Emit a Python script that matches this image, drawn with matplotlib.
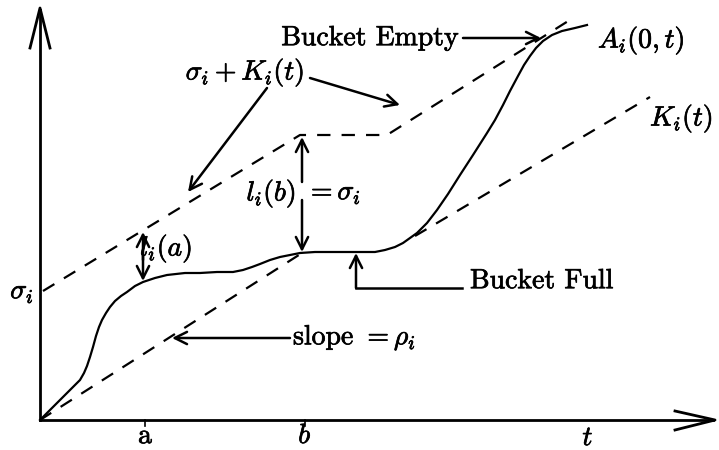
import matplotlib
matplotlib.use("Agg")
import matplotlib.pyplot as plt
import matplotlib.patheffects as pe

plt.rcParams['font.family'] = 'serif'
plt.rcParams['font.serif'] = ['cmr10']
plt.rcParams['mathtext.fontset'] = 'cm'
plt.rcParams['axes.unicode_minus'] = False

# arrival curve A_i(0,t) (schematic units)
curve_x = [0, 22, 40, 44, 47, 50, 53, 56, 59, 62, 66, 70, 75, 81, 87, 95, 103, 115, 127,
           145, 160, 177, 193, 203, 212, 220, 230, 240, 250, 260, 275, 290, 305, 320,
           335, 345, 355, 363, 370, 377, 387, 397, 408, 420, 433, 447, 455, 463, 470,
           478, 484, 490, 496, 503, 512, 522, 535, 547]
curve_y = [0, 22, 40, 47, 54, 63, 73, 84, 93, 100, 107, 113, 119, 124, 128, 134, 138, 142,
           145, 147, 147, 148, 148, 150, 153, 156, 160, 163, 165, 167, 168, 168, 168, 168,
           168, 170, 173, 177, 182, 187, 197, 210, 226, 245, 265, 287, 300, 315, 329,
           344, 355, 364, 372, 379, 385, 389, 392, 395]

# dashed bounds
slope_x = [0, 262]
slope_y = [0, 167]
upper_x = [3, 260, 347, 533]
upper_y = [129, 285, 285, 402]
k_x = [375, 610]
k_y = [184, 323]

ticks_x = [105, 265]
ticks_lab = ['a', '$b$']
sigma_y = 125

fig = plt.figure(figsize=(7.19, 4.5), dpi=100)
ax = fig.add_axes([0, 0, 1, 1])
ax.set_xlim(-40, 679)
ax.set_ylim(-30, 420)
ax.axis('off')

# axes with open arrow heads
ax.plot([0, 673], [0, 0], 'k-', lw=2.0)
ax.plot([635, 675, 635], [9, 0, -10], 'k-', lw=2.0)
ax.plot([0, 0], [0, 410], 'k-', lw=2.0)
ax.plot([-10, 0, 10], [372, 412, 372], 'k-', lw=2.0)

ax.plot(curve_x, curve_y, 'k-', lw=1.6, solid_joinstyle='round')
dash = dict(color='k', lw=1.6, dashes=(6, 5))
ax.plot(slope_x, slope_y, **dash)
ax.plot(upper_x, upper_y, **dash)
ax.plot(k_x, k_y, **dash)

fs = 20
bold = [pe.withStroke(linewidth=0.5, foreground='k')]


def label(x, y, s, ha='left'):
    ax.text(x, y, s, fontsize=fs, ha=ha, va='center', path_effects=bold)


for x, lab in zip(ticks_x, ticks_lab):
    ax.plot([x, x], [0, -6], 'k-', lw=1.2)
    label(x, -16, lab, ha='center')
label(548, -18, '$t$', ha='center')
label(-18, sigma_y + 3, r'$\sigma_i$', ha='center')

arr = dict(arrowstyle='->', lw=1.8, color='k', mutation_scale=22, shrinkA=0, shrinkB=0)

label(330, 382, 'Bucket Empty', ha='center')
ax.annotate('', xy=(501, 382), xytext=(423, 382), arrowprops=arr)
label(558, 380, r'$A_i(0,t)$')

label(205, 348, r'$\sigma_i + K_i(t)$', ha='center')
ax.annotate('', xy=(148, 228), xytext=(227, 332), arrowprops=arr)
ax.annotate('', xy=(360, 315), xytext=(270, 342), arrowprops=arr)

label(610, 302, r'$K_i(t)$')

label(256, 227, r'$l_i(b)$', ha='right')
label(266, 227, r'$=\sigma_i$')
ax.annotate('', xy=(262, 283), xytext=(262, 238), arrowprops=arr)
ax.annotate('', xy=(262, 168), xytext=(262, 220), arrowprops=arr)

label(100, 172, r'$l_i(a)$')
ax.annotate('', xy=(103, 188), xytext=(103, 160), arrowprops=arr)
ax.annotate('', xy=(103, 139), xytext=(103, 165), arrowprops=arr)

label(430, 139, 'Bucket Full')
ax.plot([422, 316], [132, 132], 'k-', lw=1.8)
ax.annotate('', xy=(316, 167), xytext=(316, 132), arrowprops=arr)

label(253, 83, r'slope $=\rho_i$')
ax.annotate('', xy=(132, 82), xytext=(250, 82), arrowprops=arr)

fig.savefig('out.png', dpi=100)
